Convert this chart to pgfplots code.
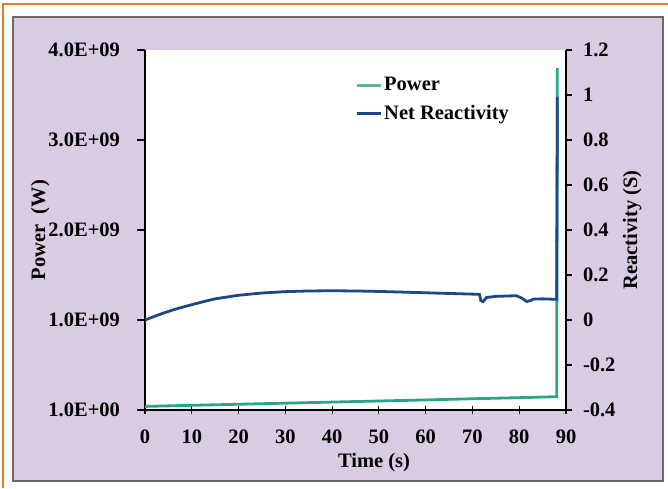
\documentclass[border=0pt]{standalone}
\usepackage{pgfplots}
\pgfplotsset{compat=1.18}
\usepackage{fontspec}
\setmainfont{Liberation Serif}
\definecolor{lav}{RGB}{217,203,226}
\definecolor{orangeb}{RGB}{230,125,45}
\definecolor{panelgray}{RGB}{105,105,110}
\definecolor{powgreen}{RGB}{40,165,135}
\definecolor{reacblue}{RGB}{28,72,135}
\newcommand{\chartfont}{\fontsize{20.5}{24}\selectfont\bfseries}
\begin{document}
\chartfont
\begin{tikzpicture}
\useasboundingbox (0pt,0pt) rectangle (668pt,488pt);
\fill[white] (0pt,0pt) rectangle (668pt,488pt);
\draw[orangeb, line width=1.5pt] (3pt,0pt) -- (3pt,484pt) -- (668pt,484pt);
\draw[panelgray, line width=1.5pt, fill=lav] (13pt,7pt) rectangle (663pt,471pt);
\begin{axis}[
  at={(145pt,78pt)}, anchor=south west,
  scale only axis, width=421pt, height=360pt,
  xmin=0, xmax=90, ymin=1, ymax=4e9,
  scaled y ticks=false,
  axis x line*=bottom, axis y line*=left,
  axis line style={-, line width=1.2pt},
  axis background/.style={fill=white},
  xtick={0,10,...,90},
  ytick={1,1e9,2e9,3e9,4e9},
  yticklabels={1.0E+00,1.0E+09,2.0E+09,3.0E+09,4.0E+09},
  tick align=center, major tick length=8pt,
  tick style={black, line width=1.2pt},
  ytick style={xshift=-4pt},
  /pgf/number format/assume math mode=true,
  every tick label/.append style={font=\chartfont},
  yticklabel style={xshift=-14pt},
  xticklabel style={yshift=-9pt},
  xlabel={Time (s)}, ylabel={Power \ (W)},
  every axis x label/.style={at={(axis description cs:0.544,-0.147)}, anchor=center, font=\chartfont},
  every axis y label/.style={at={(axis description cs:-0.249,0.5)}, rotate=90, anchor=center, font=\chartfont},
]
\addplot[powgreen, line width=2.8pt] coordinates {
(0,4.0e7) (10,5.2e7) (20,6.4e7) (30,7.6e7) (40,8.8e7) (50,1.0e8)
(60,1.12e8) (70,1.25e8) (80,1.37e8) (88.0,1.48e8) (88.15,3.8e9)
};
\end{axis}
\begin{axis}[
  at={(145pt,78pt)}, anchor=south west,
  scale only axis, width=421pt, height=360pt,
  xmin=0, xmax=90, ymin=-0.4, ymax=1.2,
  axis x line=none, axis y line*=right,
  axis line style={-, line width=1.2pt},
  ytick={-0.4,-0.2,0,0.2,0.4,0.6,0.8,1,1.2},
  yticklabels={-0.4,-0.2,0,0.2,0.4,0.6,0.8,1,1.2},
  tick align=outside, major tick length=6pt,
  tick style={black, line width=1.2pt},
  /pgf/number format/assume math mode=true,
  every tick label/.append style={font=\chartfont},
  yticklabel style={anchor=west, xshift=4pt},
  ylabel={Reactivity (S)},
  every axis y label/.style={at={(axis description cs:1.157,0.5)}, rotate=90, anchor=center, font=\chartfont},
  legend style={at={(axis description cs:0.5,0.93)}, anchor=north west, draw=none, fill=none,
     font=\chartfont, row sep=7pt, inner sep=0pt},
  legend cell align=left,
  legend image code/.code={\draw[#1, line width=2.5pt] (0pt,0pt) -- (24pt,0pt);},
]
\addlegendimage{powgreen!80!white, line width=2.5pt}
\addlegendentry{Power}
\addplot[reacblue, line width=2.8pt] coordinates {
(0,0.0) (2,0.016) (4,0.031) (6,0.045) (8,0.057) (10,0.068) (12,0.079)
(15,0.094) (20,0.110) (25,0.120) (30,0.126) (35,0.129) (40,0.130)
(45,0.129) (50,0.127) (55,0.124) (60,0.121) (65,0.118) (70,0.115)
(71.5,0.114) (71.8,0.086) (72.3,0.082) (73,0.100) (75,0.105)
(79.4,0.108) (80.5,0.098) (81.6,0.082) (82.5,0.087) (83,0.093)
(85,0.094) (88.0,0.092) (88.15,0.99)
};
\addlegendentry{Net Reactivity}
\end{axis}
\end{tikzpicture}
\end{document}
